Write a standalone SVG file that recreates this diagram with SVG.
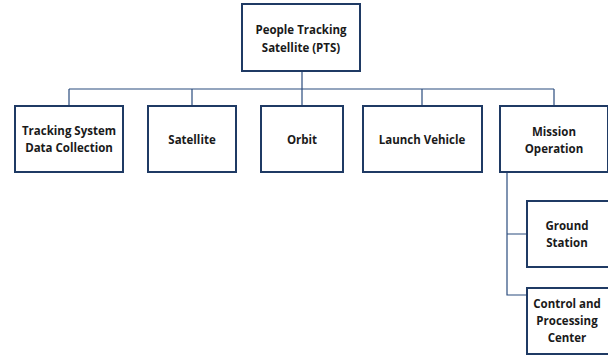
<svg xmlns="http://www.w3.org/2000/svg" width="608" height="356" viewBox="0 0 608 356">
<style>
.box{fill:#fff;stroke:#1F3A64;stroke-width:2}
.ln{fill:none;stroke:#2B4C7E;stroke-width:1.2}
text{font-family:"Open Sans","Liberation Sans",sans-serif;font-weight:bold;font-size:11.5px;fill:#1a1a1a;text-anchor:middle}
</style>
<rect width="608" height="356" fill="#fff"/>
<g id="connectors">
<path class="ln" d="M302 71V89M69 89H554M69 89V106M192 89V106M302 89V106M422 89V106M554 89V106"/>
<path class="ln" d="M507 172V295H527M507 234H527"/>
</g>
<g id="pts"><rect class="box" x="242" y="4" width="118" height="67"/><text x="301" y="34">People Tracking</text><text x="301" y="52">Satellite (PTS)</text></g>
<g id="tsdc"><rect class="box" x="15" y="106" width="108" height="66"/><text x="69" y="135">Tracking System</text><text x="69" y="152">Data Collection</text></g>
<g id="satellite"><rect class="box" x="148" y="106" width="88" height="66"/><text x="192" y="144">Satellite</text></g>
<g id="orbit"><rect class="box" x="261" y="106" width="82" height="66"/><text x="302" y="144">Orbit</text></g>
<g id="launch"><rect class="box" x="363" y="106" width="119" height="66"/><text x="422" y="144">Launch Vehicle</text></g>
<g id="mission"><rect class="box" x="500" y="106" width="108" height="66"/><text x="554" y="136">Mission</text><text x="554" y="153">Operation</text></g>
<g id="ground"><rect class="box" x="527" y="201" width="85" height="66"/><text x="567" y="230">Ground</text><text x="567" y="247">Station</text></g>
<g id="cpc"><rect class="box" x="527" y="288" width="85" height="66"/><text x="567" y="308">Control and</text><text x="567" y="325">Processing</text><text x="567" y="342">Center</text></g>
</svg>
